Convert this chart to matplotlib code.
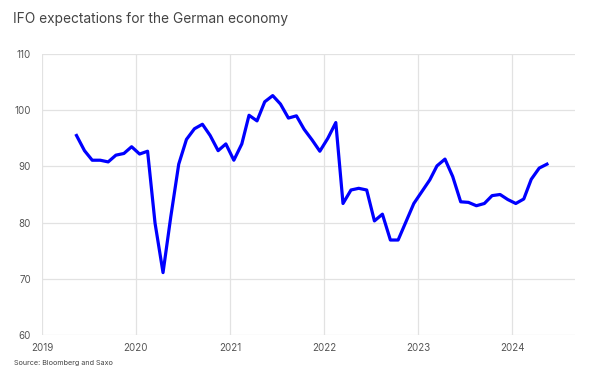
#!/usr/bin/env python3
"""IFO expectations for the German economy, monthly line chart."""

import matplotlib

matplotlib.use("Agg")
import matplotlib.dates as mdates
import matplotlib.pyplot as plt
import pandas as pd

START_MONTH = "2019-05"
IFO_EXPECTATIONS = [
    # 2019 May-Dec
    95.5, 92.8, 91.1, 91.1, 90.8, 92.0, 92.3, 93.5,
    # 2020
    92.2, 92.7, 79.9, 71.1, 81.0, 90.4, 94.8, 96.7, 97.5, 95.5, 92.8, 94.0,
    # 2021
    91.1, 94.0, 99.1, 98.1, 101.5, 102.6, 101.1, 98.6, 99.0, 96.6, 94.7, 92.7,
    # 2022
    95.0, 97.8, 83.4, 85.8, 86.1, 85.8, 80.3, 81.5, 76.9, 76.9, 80.2, 83.4,
    # 2023
    85.5, 87.6, 90.1, 91.3, 88.2, 83.7, 83.6, 83.0, 83.4, 84.8, 85.0, 84.1,
    # 2024 Jan-May
    83.4, 84.2, 87.7, 89.7, 90.4,
]
Y_TICKS = [60, 70, 80, 90, 100, 110]

dates = pd.date_range(START_MONTH, periods=len(IFO_EXPECTATIONS), freq="MS") + pd.Timedelta(days=14)

plt.rcParams["font.family"] = ["Inter", "DejaVu Sans"]

fig = plt.figure(figsize=(5.95, 3.74), dpi=100)
ax = fig.add_axes([0.0706, 0.1043, 0.8958, 0.7513])

ax.plot(dates, IFO_EXPECTATIONS, color="#0000ff", linewidth=2.3, solid_joinstyle="round")

ax.set_ylim(60, 110)
ax.set_yticks(Y_TICKS)
ax.set_xlim(pd.Timestamp("2019-01-01"), pd.Timestamp("2024-09-01"))
ax.xaxis.set_major_locator(mdates.YearLocator())
ax.xaxis.set_major_formatter(mdates.DateFormatter("%Y"))

ax.grid(True, color="#e2e2e2", linewidth=0.9)
ax.set_axisbelow(True)
for spine in ax.spines.values():
    spine.set_visible(False)
ax.tick_params(length=0, labelsize=7, colors="#555555", pad=6)
ax.tick_params(axis="y", pad=8)

fig.text(0.022, 0.95, "IFO expectations for the German economy", fontsize=9.9,
         color="#444444", ha="left", va="center")
fig.text(0.024, 0.03, "Source: Bloomberg and Saxo", fontsize=5.2,
         color="#444444", ha="left", va="center")

fig.savefig("out.png", dpi=100)
